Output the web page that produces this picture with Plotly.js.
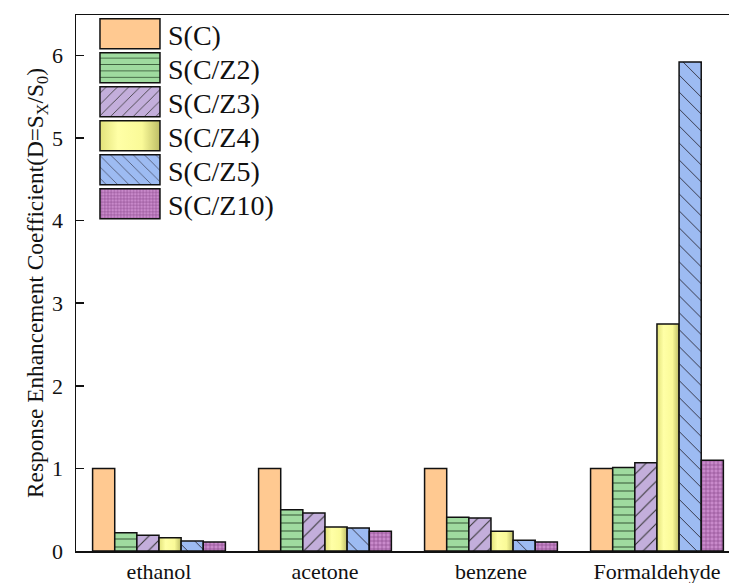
<!DOCTYPE html>
<html>
<head>
<meta charset="utf-8">
<script src="https://cdn.plot.ly/plotly-3.0.1.min.js"></script>
<style>html,body{margin:0;padding:0;background:#fff}#chart{width:729px;height:583px}</style>
</head>
<body>
<div id="chart"></div>
<svg width="0" height="0" style="position:absolute">
  <defs>
    <linearGradient id="gradZ4" x1="0" y1="0" x2="1" y2="0">
      <stop offset="0" stop-color="#E2E27A"/>
      <stop offset="0.3" stop-color="#FFFFA6"/>
      <stop offset="0.7" stop-color="#FAFA98"/>
      <stop offset="1" stop-color="#BDBD66"/>
    </linearGradient>
  </defs>
</svg>
<script>
const categories = ["ethanol", "acetone", "benzene", "Formaldehyde"];
const seriesNames = ["S(C)", "S(C/Z2)", "S(C/Z3)", "S(C/Z4)", "S(C/Z5)", "S(C/Z10)"];
const sC   = [1.00, 1.00, 1.00, 1.00];
const sZ2  = [0.22, 0.50, 0.41, 1.01];
const sZ3  = [0.19, 0.46, 0.40, 1.07];
const sZ4  = [0.16, 0.29, 0.24, 2.75];
const sZ5  = [0.12, 0.28, 0.13, 5.92];
const sZ10 = [0.11, 0.24, 0.11, 1.10];
const yTicks = [0, 1, 2, 3, 4, 5, 6];

const seriesValues = [sC, sZ2, sZ3, sZ4, sZ5, sZ10];
const styles = [
  {color: "#FFC991", pattern: {shape: ""}},
  {color: "#9FDB9F", pattern: {shape: "-", fgcolor: "#2f4f2f", bgcolor: "#9FDB9F", size: 8, solidity: 0.12}},
  {color: "#C3AEDB", pattern: {shape: "/", fgcolor: "#333333", bgcolor: "#C3AEDB", size: 10, solidity: 0.1}},
  {color: "#FCFC9C", pattern: {shape: ""}},
  {color: "#9DBBF2", pattern: {shape: "\\", fgcolor: "#333344", bgcolor: "#9DBBF2", size: 12, solidity: 0.08}},
  {color: "#B577B8", pattern: {shape: "+", fgcolor: "#8a4a8e", bgcolor: "#C98ACB", size: 4, solidity: 0.3}}
];

const font = "Liberation Serif, Times New Roman, serif";

const traces = seriesNames.map((name, i) => ({
  type: "bar",
  name: name,
  x: categories,
  y: seriesValues[i],
  legendgroup: "g" + i,
  marker: {
    color: styles[i].color,
    pattern: styles[i].pattern,
    line: {color: "#111", width: 1.5}
  },
  hoverinfo: "x+y+name"
}));

const layout = {
  width: 729,
  height: 583,
  margin: {l: 76, r: 0, t: 15, b: 32},
  paper_bgcolor: "#fff",
  plot_bgcolor: "#fff",
  barmode: "group",
  bargap: 0.2,
  bargroupgap: 0,
  font: {family: font, color: "#111", size: 22},
  showlegend: true,
  legend: {
    x: 0.0796, y: 1.0, xanchor: "left", yanchor: "top",
    font: {family: font, size: 28, color: "#111"},
    bgcolor: "rgba(0,0,0,0)",
    traceorder: "normal",
    itemwidth: 30
  },
  xaxis: {
    type: "category",
    range: [-0.5, 3.434],
    showline: true, linecolor: "#111", linewidth: 1.5,
    mirror: true,
    ticks: "",
    showgrid: false,
    zeroline: false,
    ticklabelstandoff: 0,
    tickfont: {family: font, size: 22, color: "#111"}
  },
  yaxis: {
    range: [0, 6.49],
    tickvals: yTicks,
    ticktext: yTicks.map(String),
    showline: true, linecolor: "#111", linewidth: 1.5,
    ticks: "inside", ticklen: 8, tickwidth: 1.5, tickcolor: "#111",
    ticklabelstandoff: 7,
    showgrid: false,
    zeroline: false,
    tickfont: {family: font, size: 22, color: "#111"},
    title: {text: "Response Enhancement Coefficient(D=S<sub>X</sub>/S<sub>0</sub>)", font: {family: font, size: 23.3, color: "#111"}, standoff: 0}
  }
};

Plotly.newPlot("chart", traces, layout, {displayModeBar: false, staticPlot: true}).then(gd => {
  // gradient fill for S(C/Z4) bars
  const barTraces = gd.querySelectorAll('.barlayer .trace');
  if (barTraces[3]) barTraces[3].querySelectorAll('path').forEach(p => { p.style.fill = 'url(#gradZ4)'; });
  // let the wide legend swatches extend past the legend box
  gd.querySelectorAll('.legend .scrollbox, .legend').forEach(el => el.removeAttribute('clip-path'));
  // legend: tighter row pitch and wide swatches as in the reference
  const items = Array.from(gd.querySelectorAll('.legend .traces'));
  const pitch = 34;
  let firstY = null;
  items.forEach((g, i) => {
    const m = /translate\(\s*([-\d.]+)[ ,]+([-\d.]+)\s*\)/.exec(g.getAttribute('transform') || '');
    if (!m) return;
    const tx = parseFloat(m[1]), ty = parseFloat(m[2]);
    if (firstY === null) firstY = ty - 6;
    g.setAttribute('transform', `translate(${tx},${firstY + i * pitch})`);
  });
  items.forEach((g, i) => {
    const path = g.querySelector('.legendpoints path');
    const text = g.querySelector('text.legendtext');
    if (!path || !text) return;
    const ctm = path.getScreenCTM();
    const tl = text.getBoundingClientRect().left;
    const x0 = tl - 68 - ctm.e, x1 = tl - 8 - ctm.e;
    path.setAttribute('d', `M${x1},15H${x0}V-15H${x1}Z`);
    path.style.strokeWidth = '1.5px';
    path.style.stroke = '#111';
    if (i === 3) path.style.fill = 'url(#gradZ4)';
  });
});
</script>
</body>
</html>
